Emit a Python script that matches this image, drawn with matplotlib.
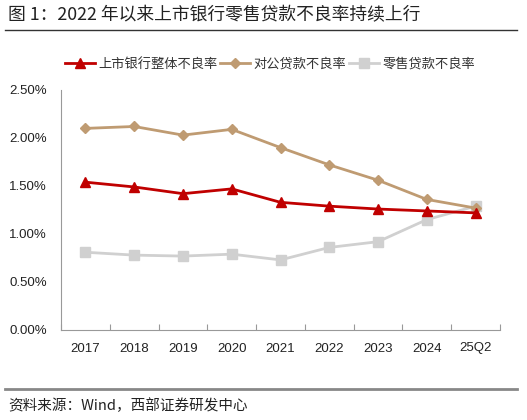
import matplotlib.pyplot as plt
import numpy as np
from matplotlib.lines import Line2D

plt.rcParams['font.family'] = ['Liberation Sans', 'Noto Sans CJK SC']

# data (percent)
years = ['2017', '2018', '2019', '2020', '2021', '2022', '2023', '2024', '25Q2']
total_npl = [1.54, 1.49, 1.42, 1.47, 1.33, 1.29, 1.26, 1.24, 1.22]
corp_npl = [2.10, 2.12, 2.03, 2.09, 1.90, 1.72, 1.56, 1.36, 1.27]
retail_npl = [0.81, 0.78, 0.77, 0.79, 0.73, 0.86, 0.92, 1.15, 1.29]

labels = ['上市银行整体不良率', '对公贷款不良率', '零售贷款不良率']
red = '#C00000'
tan = '#BF9B72'
grey = '#D0D0D0'

fig = plt.figure(figsize=(5.27, 4.2), dpi=100)
ax = fig.add_axes([61/527, 90/420, 439/527, 240/420])

x = np.arange(len(years))
ax.plot(x, total_npl, color=red, lw=2, marker='^', ms=6.5, label=labels[0], zorder=3)
ax.plot(x, corp_npl, color=tan, lw=2, marker='D', ms=5, label=labels[1], zorder=2)
ax.plot(x, retail_npl, color=grey, lw=2, marker='s', ms=6.5, label=labels[2], zorder=1)

ax.set_xlim(-0.5, len(years) - 0.5)
ax.set_ylim(0, 2.5)
ax.set_yticks(np.arange(0, 2.51, 0.5))
ax.set_yticklabels([f'{v:.2f}%' for v in np.arange(0, 2.51, 0.5)], fontsize=9.5, color='#222222')
ax.set_xticks(x)
ax.set_xticklabels(years, fontsize=9.5, color='#222222')
ax.set_xticks(np.arange(-0.5, len(years), 1), minor=True)
ax.tick_params(axis='x', which='major', length=0, pad=9)
ax.tick_params(axis='x', which='minor', direction='in', length=4, color='#999999', width=0.8)
ax.tick_params(axis='y', length=0, pad=10)

for s in ['top', 'right']:
    ax.spines[s].set_visible(False)
for s in ['left', 'bottom']:
    ax.spines[s].set_color('#999999')
    ax.spines[s].set_linewidth(0.8)

leg = ax.legend(loc='center', bbox_to_anchor=(270/527, 1 - 64/420), bbox_transform=fig.transFigure,
                ncol=3, frameon=False, handlelength=2.3, handletextpad=0.25, columnspacing=0.2,
                prop={'family': 'Noto Sans CJK SC', 'size': 9.5})
for t in leg.get_texts():
    t.set_color('#333333')

# title and source
fig.text(8/527, 1 - 15/420, '图 1：2022 年以来上市银行零售贷款不良率持续上行', fontsize=12.8,
         family=['Noto Sans CJK SC'], va='center', ha='left', color='#222222')
fig.add_artist(Line2D([5/527, 517/527], [1 - 30/420, 1 - 30/420], color='#333333', lw=1))
fig.add_artist(Line2D([5/527, 517/527], [1 - 389/420, 1 - 389/420], color='#888888', lw=2))
fig.text(8/527, 1 - 406/420, '资料来源：Wind，西部证券研发中心', fontsize=10.5,
         family=['Noto Sans CJK SC'], va='center', ha='left', color='#222222')

fig.savefig('out.png', dpi=100)
